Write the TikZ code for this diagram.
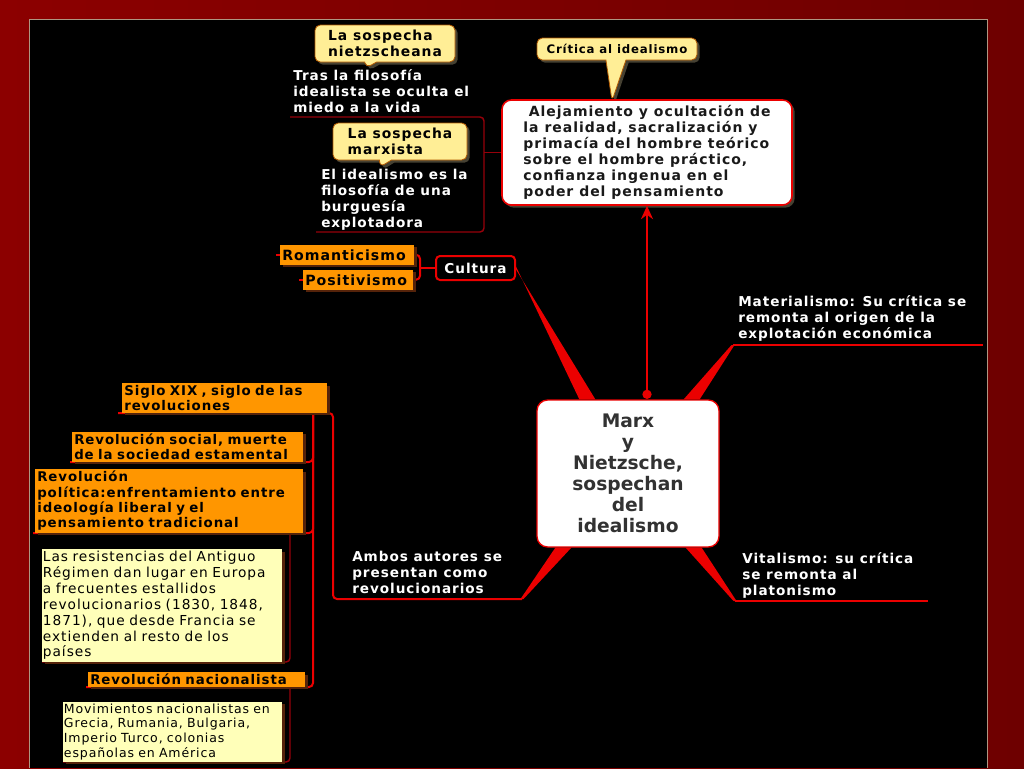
\documentclass[tikz,border=0pt]{standalone}
\usepackage{fontspec}
\setmainfont{DejaVu Sans}[LetterSpace=7]
\newfontfamily\corefont{DejaVu Sans}
\usetikzlibrary{shapes.callouts,shadows,arrows.meta,calc,positioning,backgrounds}
\definecolor{framered}{RGB}{140,0,0}
\definecolor{framedark}{RGB}{110,0,0}
\definecolor{maproot}{RGB}{235,0,0}
\definecolor{linedark}{RGB}{150,0,10}
\definecolor{calloutyellow}{RGB}{255,238,150}
\definecolor{boxorange}{RGB}{255,150,0}
\definecolor{boxpale}{RGB}{255,255,185}
\definecolor{shadowbrown}{RGB}{85,35,10}
\definecolor{shadowgrey}{RGB}{70,65,50}
\definecolor{coretext}{RGB}{50,50,50}
\definecolor{panelline}{RGB}{175,150,130}
\tikzset{boxshadow/.style={drop shadow={shadow xshift=2pt,shadow yshift=-2pt,fill=#1,opacity=1}},
	calloutbox/.style={rectangle callout,rounded corners=4pt,fill=calloutyellow,draw=orange!70!black,line width=0.6pt,callout pointer width=9pt,boxshadow=shadowgrey,align=left,inner sep=2pt,font=\fontsize{10.4}{12}\selectfont\bfseries},
	orangebox/.style={fill=boxorange,boxshadow=shadowbrown,align=left,inner xsep=1.5pt,inner ysep=1.5pt,anchor=south west,font=\fontsize{10}{11.5}\selectfont\bfseries},
	palebox/.style={fill=boxpale,boxshadow=shadowbrown,align=left,inner xsep=0.5pt,inner ysep=1.5pt,anchor=south west,font=\fontsize{10.3}{11.9}\selectfont},
	whitetxt/.style={text=white,align=left,inner sep=0pt,anchor=north west,font=\fontsize{10.2}{12}\selectfont\bfseries},
	redline/.style={draw=maproot,line width=1.5pt},
	thinline/.style={draw=linedark,line width=1.1pt}}

\begin{document}
\begin{tikzpicture}[x=0.75pt,y=-0.75pt]
	\useasboundingbox (0,0) rectangle (1024,768);
	\begin{scope}[on background layer]
		\shade[left color=framered,right color=framedark] (0,0) rectangle (1024,768);
		\fill[black] (29,19) rectangle (987,768);
		\draw[panelline,line width=0.6pt] (29,768) -- (29,19) -- (987,19) -- (987,768);
	\end{scope}

	\node[calloutbox,minimum width=105pt,minimum height=27.75pt,callout absolute pointer={(366,68)}] (nietz) at (385,43.5) {La sospecha\\nietzscheana};
	\node[calloutbox,minimum width=100.5pt,minimum height=27.75pt,callout absolute pointer={(380,167)}] (marxc) at (400,141.5) {La sospecha\\marxista};
	\node[calloutbox,font=\fontsize{8.8}{10}\selectfont\bfseries,minimum width=120pt,minimum height=16.5pt,callout pointer width=15pt,callout absolute pointer={(612,101)}] (critica) at (617,49) {Crítica al idealismo};

	\node[draw=maproot,line width=1.2pt,fill=white,rounded corners=7pt,minimum width=217.5pt,minimum height=78.75pt,align=left,text=black!90,font=\fontsize{10.5}{12}\selectfont\bfseries,boxshadow=shadowgrey] (alej) at (647,152.5) {\hspace*{4pt}Alejamiento y ocultación de\\la realidad, sacralización y\\primacía del hombre teórico\\sobre el hombre práctico,\\confianza ingenua en el\\poder del pensamiento};
	\node[draw=maproot,line width=1pt,fill=white,rounded corners=8pt,minimum width=136.5pt,minimum height=110.25pt,align=center,text=coretext,font=\corefont\fontsize{14}{15.75}\selectfont\bfseries] (core) at (628,473.5) {Marx\\y\\Nietzsche,\\sospechan\\del\\idealismo};
	\node[draw=maproot,line width=1.5pt,fill=black,rounded corners=3pt,text=white,minimum width=59.25pt,minimum height=18pt,font=\fontsize{10.2}{12}\selectfont\bfseries] (cult) at (475.5,268) {Cultura};

	\node[whitetxt] (nietzT) at (293,69.5) {Tras la filosofía\\idealista se oculta el\\miedo a la vida};
	\node[whitetxt] (marxT) at (321,168.5) {El idealismo es la\\filosofía de una\\burguesía\\explotadora};
	\node[whitetxt] (matT) at (738,295) {Materialismo: Su crítica se\\remonta al origen de la\\explotación económica};
	\node[whitetxt] (vitT) at (742,552) {Vitalismo: su crítica\\se remonta al\\platonismo};
	\node[whitetxt] (ambT) at (352,550.5) {Ambos autores se\\presentan como\\revolucionarios};

	\node[orangebox,font=\fontsize{10.6}{11.5}\selectfont\bfseries,text width=97.5pt,minimum height=15pt] (roman) at (280,265) {Romanticismo};
	\node[orangebox,font=\fontsize{10.6}{11.5}\selectfont\bfseries,text width=79.5pt,minimum height=15pt] (posit) at (303,290) {Positivismo};
	\node[orangebox,text width=150.75pt] (siglo) at (122,413) {Siglo XIX , siglo de las\\revoluciones};
	\node[orangebox,text width=170.25pt] (social) at (72,462) {Revolución social, muerte\\de la sociedad estamental};
	\node[orangebox,text width=198pt] (politica) at (35,533) {Revolución\\política:enfrentamiento entre\\ideología liberal y el\\pensamiento tradicional};
	\node[orangebox,text width=159.75pt] (nacional) at (88,687) {Revolución nacionalista};
	\node[palebox,text width=179pt] (resist) at (42,662) {Las resistencias del Antiguo\\Régimen dan lugar en Europa\\a frecuentes estallidos\\revolucionarios (1830, 1848,\\1871), que desde Francia se\\extienden al resto de los\\países};
	\node[palebox,font=\fontsize{9.4}{11}\selectfont,text width=163pt] (movim) at (63,762) {Movimientos nacionalistas en\\Grecia, Rumania, Bulgaria,\\Imperio Turco, colonias\\españolas en América};

	\coordinate (nietzL) at (290,117);
	\coordinate (marxL) at (316,232);
	\coordinate (alejJ) at (484,152.5);
	\coordinate (cultJ) at (420,268);
	\coordinate (matL) at (733,345);
	\coordinate (matR) at (983,345);
	\coordinate (vitL) at (735,601);
	\coordinate (vitR) at (928,601);
	\coordinate (ambR) at (522,599);
	\coordinate (ambL) at (333,599);
	\coordinate (sigR) at (333,413);
	\coordinate (sigL) at (118,413);
	\coordinate (sigJ) at (313,413);
	\coordinate (socL) at (70,462);
	\coordinate (polL) at (33,533);
	\coordinate (nacL) at (86,687);
	\coordinate (polJ) at (290,533);
	\coordinate (resL) at (42,662);
	\coordinate (nacJ) at (290,687);
	\coordinate (movL) at (63,762);
	\coordinate (coreDot) at ($(core.north -| alej.south)+(0,-5)$);

	\begin{scope}[on background layer]
		\fill[maproot] ($(core.north west)+(43,0)$) -- ($(core.north west)+(59,0)$) -- ($(cult.east)+(0,1.5)$) -- ($(cult.east)+(0,-1.5)$) -- cycle;
		\fill[maproot] ($(core.north east)+(-36,0)$) -- ($(core.north east)+(-20,0)$) -- ($(matL)+(1.5,0)$) -- ($(matL)+(-1.5,0)$) -- cycle;
		\fill[maproot] ($(core.south east)+(-34,0)$) -- ($(core.south east)+(-18,0)$) -- ($(vitL)+(1.5,0)$) -- ($(vitL)+(-1.5,0)$) -- cycle;
		\fill[maproot] ($(core.south west)+(19,0)$) -- ($(core.south west)+(35,0)$) -- ($(ambR)+(1.5,0)$) -- ($(ambR)+(-1.5,0)$) -- cycle;
		\draw[redline,line width=2.2pt] (matL) -- (matR);
		\draw[redline,line width=2.2pt] (vitL) -- (vitR);
		\draw[redline,rounded corners=3pt] (ambR) -- (ambL) -- (sigR) -- (sigL);
		\draw[redline,rounded corners=3pt] (sigJ) |- (socL);
		\draw[redline,rounded corners=3pt] (sigJ) |- (polL);
		\draw[redline,rounded corners=3pt] (sigJ) |- (nacL);
		\draw[thinline,rounded corners=3pt] (polJ) |- (resL);
		\draw[thinline,rounded corners=3pt] (nacJ) |- (movL);
		\draw[thinline,rounded corners=3pt] (nietzL) -| (alejJ) |- (marxL);
		\draw[thinline] (alejJ) -- (alej.west);
		\draw[redline,rounded corners=3pt] (roman.east) -| (cultJ) |- (posit.east);
		\draw[redline] (cultJ) -- (cult.west);
		\draw[redline] (roman.west) -- ++(-4,0);
		\draw[redline] (posit.west) -- ++(-4,0);
	\end{scope}
	\draw[maproot,line width=2.2pt,-{Stealth[length=10pt,width=9pt]}] (coreDot) -- (alej.south);
	\fill[maproot] (coreDot) circle[radius=3.5pt];
\end{tikzpicture}
\end{document}
